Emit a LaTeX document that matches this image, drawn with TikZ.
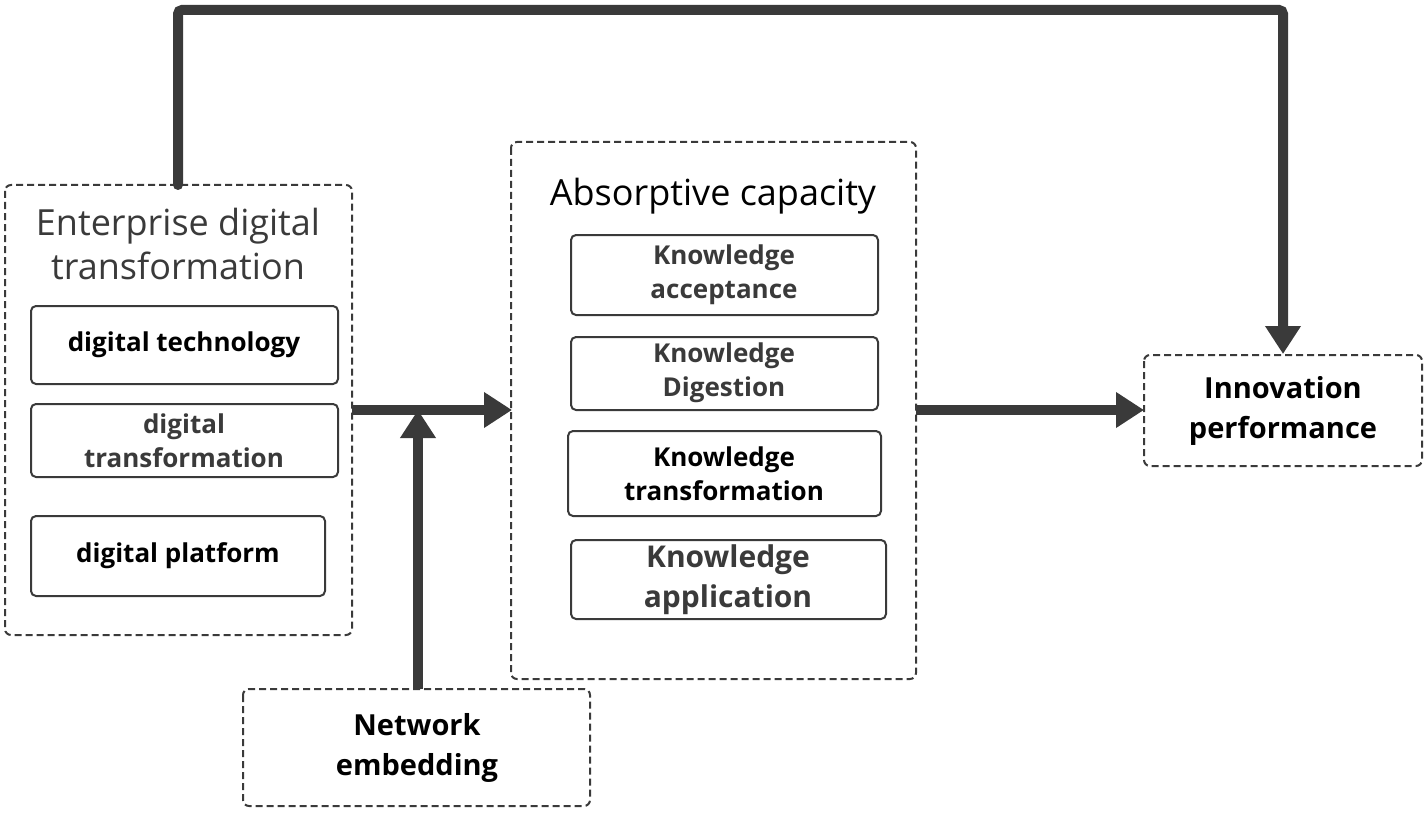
\documentclass[tikz,border=0pt]{standalone}
\usepackage{fontspec}
\setmainfont{Open Sans}
\usetikzlibrary{arrows.meta}
\definecolor{dk}{HTML}{3A3A3A}
\begin{document}
\begin{tikzpicture}[x=1pt,y=-1pt,
 outer/.style={draw=dk,dashed,line width=2pt,rounded corners=6pt,dash pattern=on 7pt off 4pt},
 inner/.style={draw=dk,line width=2pt,rounded corners=5pt},
 lbl/.style={align=center,font=\bfseries\fontsize{26}{34}\selectfont,text=black},
 arr/.style={draw=dk,line width=10pt,-{Triangle[length=28pt,width=34pt]}}]
\useasboundingbox (0,0) rectangle (1426,813);
\draw[outer] (5,185) rectangle (352,635);
\node[align=center,font=\fontsize{36}{44}\selectfont,text=dk] (t1) at (178,244) {Enterprise digital\\transformation};
\draw[inner] (31,306) rectangle (338,384); \node[lbl] (a1) at (184,345) {digital technology};
\draw[inner] (31,404) rectangle (338,477); \node[lbl,text=dk] (a2) at (184,441) {digital\\transformation};
\draw[inner] (31,516) rectangle (325,596); \node[lbl] (a3) at (178,556) {digital platform};
\draw[outer] (511,142) rectangle (916,679);
\node[font=\fontsize{36}{44}\selectfont,text=black] (t2) at (713,196) {Absorptive capacity};
\draw[inner] (571,235) rectangle (878,315); \node[lbl,text=dk] (b1) at (724,275) {Knowledge\\acceptance};
\draw[inner] (571,337) rectangle (878,410); \node[lbl,text=dk] (b2) at (724,373) {Knowledge\\Digestion};
\draw[inner] (568,431) rectangle (881,516); \node[lbl] (b3) at (724,474) {Knowledge\\transformation};
\draw[inner] (571,540) rectangle (886,619); \node[lbl,text=dk,font=\bfseries\fontsize{30}{40}\selectfont] (b4) at (728,580) {Knowledge\\application};
\draw[outer] (1144,355) rectangle (1422,466);
\node[lbl,font=\bfseries\fontsize{29}{40}\selectfont] (ip) at (1283,411) {Innovation\\performance};
\draw[outer] (243,689) rectangle (590,806);
\node[lbl,font=\bfseries\fontsize{29}{40}\selectfont] (ne) at (417,748) {Network\\embedding};
\coordinate (e) at (352,410); \coordinate (ac) at (512,410);
\coordinate (m) at (418,410); \coordinate (nt) at (418,689);
\coordinate (acr) at (916,410); \coordinate (ipl) at (1144,410);
\coordinate (s) at (178,185); \coordinate (c1) at (178,10); \coordinate (c2) at (1283,10); \coordinate (ipt) at (1283,354);
\draw[arr] (e) -- (ac);
\draw[arr] (nt) -- (m);
\draw[arr] (acr) -- (ipl);
\draw[arr,line cap=round,rounded corners=4pt] (s) -- (c1) -- (c2) -- (ipt);
\end{tikzpicture}
\end{document}
